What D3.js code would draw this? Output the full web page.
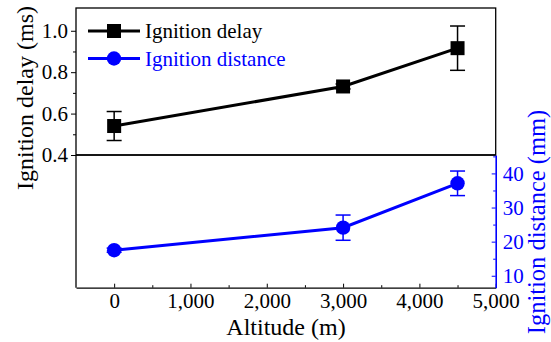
<!DOCTYPE html>
<html><head><meta charset="utf-8">
<script src="https://cdn.jsdelivr.net/npm/d3@7"></script>
<style>
html,body{margin:0;padding:0;background:#fff;}
svg text{font-family:'Liberation Serif','DejaVu Serif',serif !important;}
</style></head>
<body><svg id="c" width="551" height="342" font-family="Liberation Serif"></svg>
<script>
const altitudes = [0, 3000, 4500];
const delayValues = [0.54, 0.731, 0.916];
const delayErrors = [0.07, 0.012, 0.107];
const distanceValues = [17.5, 24.1, 37.1];
const distanceErrors = [0.6, 3.7, 3.6];
const xTicks = [0, 1000, 2000, 3000, 4000, 5000];
const delayTicks = [0.4, 0.6, 0.8, 1.0];
const distanceTicks = [10, 20, 30, 40];
const seriesNames = ["Ignition delay", "Ignition distance"];

const FONT = "Liberation Serif";
const svg = d3.select("#c");
const L = 76, R = 495.7, T = 8, M = 155, B = 287.7;
const x = d3.scaleLinear().domain([-500, 5000]).range([L, R]);
const yTop = d3.scaleLinear().domain([0.4, 1.11]).range([M, T]);
const yBot = d3.scaleLinear().domain([6.5, 45.4]).range([B, M]);
const blue = "#0000ff";
const fs = 21;

svg.append("rect").attr("x", L).attr("y", T).attr("width", R - L).attr("height", M - T)
  .attr("fill", "none").attr("stroke", "#000").attr("stroke-width", 1.3);
svg.append("line").attr("x1", L).attr("x2", L).attr("y1", M).attr("y2", B)
  .attr("stroke", "#000").attr("stroke-width", 1.3);

const xAx = svg.append("g").attr("transform", `translate(0,${B})`)
  .call(d3.axisBottom(x).tickValues(xTicks).tickSizeInner(-4).tickSizeOuter(0).tickPadding(5).tickFormat(d3.format(",")));
xAx.attr("font-family", FONT);
xAx.select(".domain").attr("stroke-width", 1.3);
xAx.selectAll("text").attr("font-size", fs).attr("fill", "#000");
svg.append("g").attr("transform", `translate(0,${B})`)
  .call(d3.axisBottom(x).tickValues([500,1500,2500,3500,4500]).tickSizeInner(-2.5).tickSizeOuter(0).tickFormat(""))
  .select(".domain").remove();

const yAx = svg.append("g").attr("transform", `translate(${L},0)`)
  .call(d3.axisLeft(yTop).tickValues(delayTicks).tickSizeInner(5).tickSizeOuter(0).tickPadding(3).tickFormat(d3.format(".1f")));
yAx.attr("font-family", FONT);
yAx.select(".domain").remove();
yAx.selectAll("text").attr("font-size", fs).attr("fill", "#000");
svg.append("g").attr("transform", `translate(${L},0)`)
  .call(d3.axisLeft(yTop).tickValues([0.5, 0.7, 0.9]).tickSizeInner(3).tickSizeOuter(0).tickFormat(""))
  .select(".domain").remove();

const rAx = svg.append("g").attr("transform", `translate(${R},0)`)
  .call(d3.axisRight(yBot).tickValues(distanceTicks).tickSizeInner(-4).tickSizeOuter(0).tickPadding(7));
rAx.attr("font-family", FONT);
rAx.select(".domain").attr("stroke", blue).attr("stroke-width", 1.6);
rAx.selectAll("line").attr("stroke", blue);
rAx.selectAll("text").attr("font-size", fs).attr("fill", blue);
const rMin = svg.append("g").attr("transform", `translate(${R},0)`)
  .call(d3.axisRight(yBot).tickValues([15, 25, 35, 45]).tickSizeInner(-2.5).tickSizeOuter(0).tickFormat(""));
rMin.select(".domain").remove();
rMin.selectAll("line").attr("stroke", blue);

svg.append("line").attr("x1", L).attr("x2", R).attr("y1", M).attr("y2", M)
  .attr("stroke", "#000").attr("stroke-width", 1.3);

svg.append("text").attr("transform", `translate(33,98) rotate(-90)`).attr("text-anchor", "middle")
  .attr("font-family", FONT).attr("font-size", 24).attr("fill", "#000").text("Ignition delay (ms)");
svg.append("text").attr("transform", `translate(545,222) rotate(-90)`).attr("text-anchor", "middle")
  .attr("font-family", FONT).attr("font-size", 24.5).attr("fill", blue).text("Ignition distance (mm)");
svg.append("text").attr("x", 286).attr("y", 335).attr("text-anchor", "middle")
  .attr("font-family", FONT).attr("font-size", 24).attr("fill", "#000").text("Altitude (m)");

const delayData = altitudes.map((a, i) => ({a, v: delayValues[i], e: delayErrors[i]}));
const distData = altitudes.map((a, i) => ({a, v: distanceValues[i], e: distanceErrors[i]}));

function errBars(data, ys, color) {
  const g = svg.append("g").attr("stroke", color).attr("stroke-width", 1.5);
  data.forEach(d => {
    const xc = x(d.a), y1 = ys(d.v + d.e), y2 = ys(d.v - d.e);
    g.append("line").attr("x1", xc).attr("x2", xc).attr("y1", y1).attr("y2", y2);
    g.append("line").attr("x1", xc - 7.5).attr("x2", xc + 7.5).attr("y1", y1).attr("y2", y1);
    g.append("line").attr("x1", xc - 7.5).attr("x2", xc + 7.5).attr("y1", y2).attr("y2", y2);
  });
}
errBars(delayData, yTop, "#000");
errBars(distData, yBot, blue);

const lineTop = d3.line().x(d => x(d.a)).y(d => yTop(d.v));
const lineBot = d3.line().x(d => x(d.a)).y(d => yBot(d.v));
svg.append("path").datum(delayData).attr("d", lineTop).attr("fill", "none").attr("stroke", "#000").attr("stroke-width", 3);
svg.append("path").datum(distData).attr("d", lineBot).attr("fill", "none").attr("stroke", blue).attr("stroke-width", 3);

svg.selectAll(".sq").data(delayData).enter().append("rect")
  .attr("x", d => x(d.a) - 7).attr("y", d => yTop(d.v) - 7).attr("width", 14).attr("height", 14).attr("fill", "#000");
svg.selectAll(".ci").data(distData).enter().append("circle")
  .attr("cx", d => x(d.a)).attr("cy", d => yBot(d.v)).attr("r", 7.2).attr("fill", blue);

const lg = svg.append("g");
[["#000", 31, "sq"], [blue, 58.5, "ci"]].forEach(([c, y, m], i) => {
  lg.append("line").attr("x1", 88).attr("x2", 140).attr("y1", y).attr("y2", y).attr("stroke", c).attr("stroke-width", 3);
  if (m === "sq") lg.append("rect").attr("x", 107).attr("y", y - 7).attr("width", 14).attr("height", 14).attr("fill", c);
  else lg.append("circle").attr("cx", 114).attr("cy", y).attr("r", 7.2).attr("fill", c);
  lg.append("text").attr("x", 145).attr("y", y + 7).attr("font-family", FONT).attr("font-size", fs).attr("fill", c).text(seriesNames[i]);
});
</script></body></html>
